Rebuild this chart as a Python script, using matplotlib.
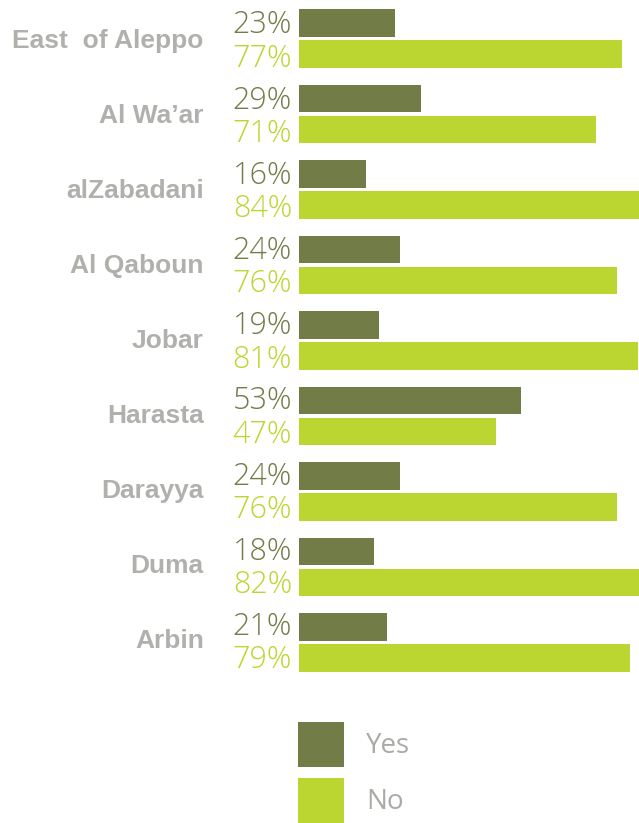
import matplotlib
matplotlib.use("Agg")
import matplotlib.pyplot as plt
from matplotlib.patches import Patch
import numpy as np

areas = ["East  of Aleppo", "Al Wa\u2019ar", "alZabadani", "Al Qaboun", "Jobar",
         "Harasta", "Darayya", "Duma", "Arbin"]
yes_pct = [23, 29, 16, 24, 19, 53, 24, 18, 21]
no_pct = [77, 71, 84, 76, 81, 47, 76, 82, 79]

YES_COLOR = "#727c47"
NO_COLOR = "#bcd631"
LABEL_GRAY = "#b0b0ac"

W, H = 639, 823
fig = plt.figure(figsize=(W / 100, H / 100), dpi=100)
ax = fig.add_axes([299 / W, 0, 340 / W, 1])

rows = np.arange(len(areas))
bar_h = 0.37
off = 0.205
ax.barh(rows - off, yes_pct, height=bar_h, color=YES_COLOR)
ax.barh(rows + off, no_pct, height=bar_h, color=NO_COLOR)

ax.set_xlim(0, 340 / 4.19)
ax.set_ylim((H - 38.5) / 75.5, -38.5 / 75.5)
ax.axis("off")

pct_font = dict(fontsize=22, family="Open Sans", fontweight="light")
for i, (y, n) in enumerate(zip(yes_pct, no_pct)):
    lift = 0.2 * i  # text rows sit on a slightly tighter pitch than the bars
    ax.annotate(f"{y}%", (0, i - off), xytext=(-5, -7.4 + lift), textcoords="offset points",
                ha="right", va="baseline", color=YES_COLOR,
                annotation_clip=False, **pct_font)
    ax.annotate(f"{n}%", (0, i + off), xytext=(-5, -9.1 + lift), textcoords="offset points",
                ha="right", va="baseline", color=NO_COLOR,
                annotation_clip=False, **pct_font)
    ax.annotate(areas[i], (0, i), xytext=(-68.5, -6.9 + 2 * lift), textcoords="offset points",
                ha="right", va="baseline", fontsize=19, color=LABEL_GRAY,
                family="Liberation Sans", fontweight="bold", annotation_clip=False)

handles = [Patch(facecolor=YES_COLOR, label="Yes"), Patch(facecolor=NO_COLOR, label="No")]
leg = fig.legend(handles=handles, loc="upper left", bbox_to_anchor=(298 / W, 1 - 722 / H),
                 frameon=False, handlelength=1.65, handleheight=2.11,
                 labelspacing=0.4, handletextpad=0.79, borderaxespad=0, borderpad=0,
                 prop={"family": "Open Sans", "size": 20})
for t in leg.get_texts():
    t.set_color("#aaaaa7")

fig.savefig("out.png", dpi=100)
